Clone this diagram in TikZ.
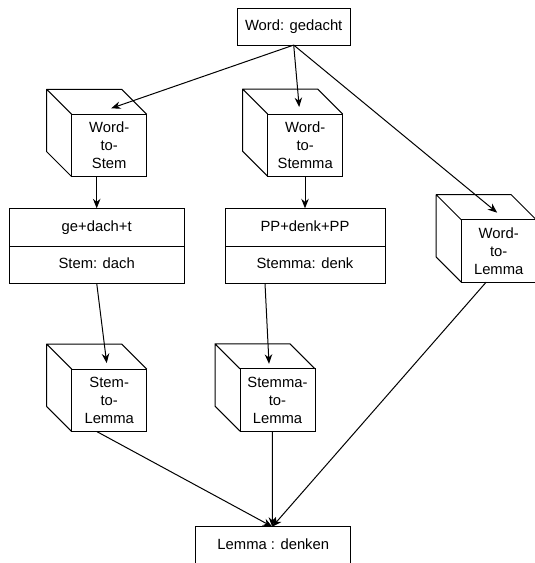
\documentclass[tikz,border=0pt]{standalone}
\usepackage{fontspec}
\setmainfont{Liberation Sans}
\usetikzlibrary{positioning,arrows.meta}

% back faces of a cube drawn behind its front face node
\newcommand{\cubeback}[1]{%
	\draw[edge]	(#1.north west) -- ++(-25pt,25pt) -- ([shift={(-25pt,25pt)}]#1.north east) -- (#1.north east)
		(#1.north west) ++(-25pt,25pt) -- ([shift={(-25pt,25pt)}]#1.south west) -- (#1.south west);}

\begin{document}
\begin{tikzpicture}[x=1pt,y=-1pt]

		\tikzstyle{edge}=[draw=black,line width=1pt,line join=round]
		\tikzstyle{box}=[rectangle,
			fill=white,draw=black,line width=1pt,
			font=\fontsize{14.8}{18}\selectfont,
			text height=10.5pt,text depth=3pt,
			align=center,inner sep=0mm,outer sep=0mm]
		\tikzstyle{cube}=[box,
			minimum width=75pt,minimum height=62.4pt,
			text height=,text depth=]
		\tikzstyle{arrow}=[->,>={Stealth[length=9.5pt,width=7.5pt]},
			draw=black,line width=1pt]

		\useasboundingbox (0,0) rectangle (535,563);

		\node[box,minimum width=112.7pt,minimum height=36.7pt]	(word)	at (293.7,26.7)	{Word: gedacht};

		\node[cube]	(w2s)	at (109.2,145.5)	{Word-\\to-\\Stem};
		\node[cube]	(w2sa)	at (305.2,145.2)	{Word-\\to-\\Stemma};
		\node[cube]	(w2l)	at (498.7,250.9)	{Word-\\to-\\Lemma};

		\node[box,minimum width=175.3pt,minimum height=38.4pt]	(seg1)	at (96.7,227.5)	{ge+dach+t};
		\node[box,minimum width=175.3pt,minimum height=36.6pt,below=0pt of seg1]	(stem1)	{Stem: dach};
		\node[box,minimum width=160pt,minimum height=38.4pt]	(seg2)	at (305,227.5)	{PP+denk+PP};
		\node[box,minimum width=160pt,minimum height=36.6pt,below=0pt of seg2]	(stem2)	{Stemma: denk};

		\node[cube]	(s2l)	at (109.2,400.3)	{Stem-\\to-\\Lemma};
		\node[cube]	(sa2l)	at (277.5,400)	{Stemma-\\to-\\Lemma};

		\node[box,minimum width=154.7pt,minimum height=38pt]	(lemma)	at (273.3,545.7)	{Lemma : denken};

		\cubeback{w2s}
		\cubeback{w2sa}
		\cubeback{w2l}
		\cubeback{s2l}
		\cubeback{sa2l}

		\draw[arrow]	(word.south)	--	([xshift=2pt,yshift=6pt]w2s.north);
		\draw[arrow]	(word.south)	--	([xshift=-6pt,yshift=7pt]w2sa.north);
		\draw[arrow]	(word.south)	--	([xshift=-1.5pt,yshift=7pt]w2l.north);

		\draw[arrow]	(w2s.south -| seg1.north)	--	(seg1.north);
		\draw[arrow]	(w2sa.south -| seg2.north)	--	(seg2.north);

		\draw[arrow]	(stem1.south)	--	([xshift=-2.5pt,yshift=6pt]s2l.north);
		\draw[arrow]	([xshift=-40pt]stem2.south)	--	([xshift=-8.5pt,yshift=5pt]sa2l.north);

		\draw[arrow]	([xshift=-12.5pt]s2l.south)	--	([xshift=-1pt]lemma.north);
		\draw[arrow]	([xshift=-5pt]sa2l.south)	--	([xshift=-1pt]lemma.north);
		\draw[arrow]	([xshift=-12.5pt]w2l.south)	--	([xshift=-1pt]lemma.north);

	\end{tikzpicture}
\end{document}
